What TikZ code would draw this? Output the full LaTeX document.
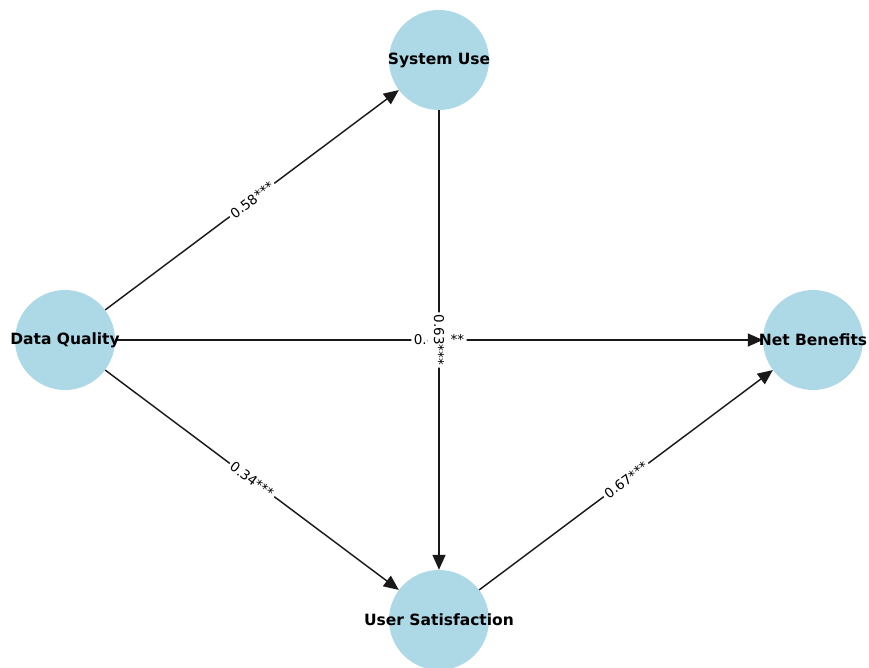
\documentclass[tikz,border=0pt]{standalone}
\usepackage{fontspec}
\setmainfont{DejaVu Sans}
\usetikzlibrary{arrows.meta}
\definecolor{nodeblue}{HTML}{ADD8E6}
\begin{document}
\begin{tikzpicture}[x=1pt,y=-1pt,
  concept/.style={circle,fill=nodeblue,minimum size=100pt,inner sep=0pt},
  conceptlabel/.style={font=\fontsize{15.5}{18}\selectfont\bfseries,inner sep=0pt},
  link/.style={draw=black!90,line width=1.45pt,-{Triangle[length=15pt,width=13pt]}},
  coef/.style={font=\fontsize{13.5}{16}\selectfont,fill=white,inner sep=2.5pt,rounded corners=3pt}]
  \clip (0,0) rectangle (869,668);

  % constructs
  \node[concept] (dq) at (65,340) {};
  \node[concept] (su) at (439,60) {};
  \node[concept] (nb) at (813,340) {};
  \node[concept] (us) at (439,620) {};

  % paths
  \draw[link] (dq) -- (su);
  \draw[link] (dq) -- (nb);
  \draw[link] (dq) -- (us);
  \draw[link] (su) -- (us);
  \draw[link] (us) -- (nb);

  % path coefficients
  \path (dq) -- (su) node[coef,midway,sloped] (c1) {0.58***};
  \path (dq) -- (nb) node[coef,midway] (c2) {0.41***};
  \path (dq) -- (us) node[coef,midway,sloped] (c3) {0.34***};
  \path (su) -- (us) node[coef,midway,rotate=-90,inner ysep=6.5pt] (c4) {0.63***};
  \path (us) -- (nb) node[coef,midway,sloped] (c5) {0.67***};

  % construct names
  \node[conceptlabel] (dqt) at (dq) {Data Quality};
  \node[conceptlabel] (sut) at (su) {System Use};
  \node[conceptlabel] (nbt) at (nb) {Net Benefits};
  \node[conceptlabel] (ust) at (us) {User Satisfaction};
\end{tikzpicture}
\end{document}
